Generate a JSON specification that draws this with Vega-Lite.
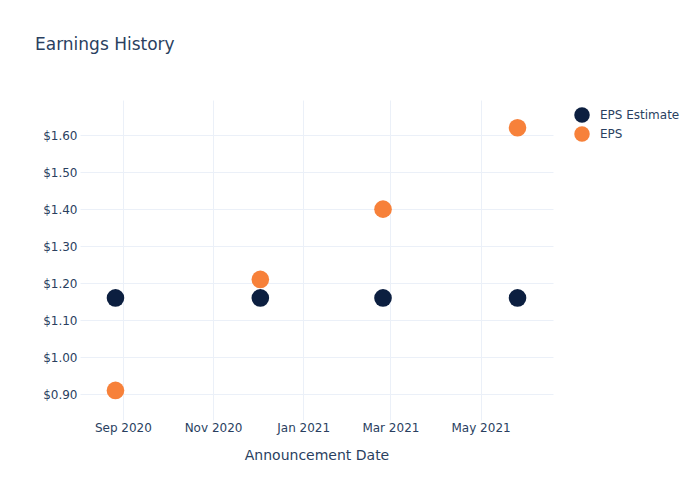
{
  "$schema": "https://vega.github.io/schema/vega-lite/v6.json",
  "width": 473,
  "height": 320,
  "autosize": {"type": "none"},
  "padding": {"left": 80, "top": 100, "right": 147, "bottom": 80},
  "background": "white",
  "title": {
    "text": "Earnings History",
    "anchor": "start",
    "frame": "group",
    "dx": -45,
    "offset": 46,
    "font": "DejaVu Sans",
    "fontSize": 17,
    "fontWeight": "normal",
    "color": "#2a3f5f"
  },
  "config": {
    "view": {"stroke": null},
    "font": "DejaVu Sans"
  },
  "data": {
    "values": [
      {"date": "2020-08-27", "series": "EPS Estimate", "value": 1.16},
      {"date": "2020-12-03", "series": "EPS Estimate", "value": 1.16},
      {"date": "2021-02-24", "series": "EPS Estimate", "value": 1.16},
      {"date": "2021-05-26", "series": "EPS Estimate", "value": 1.16},
      {"date": "2020-08-27", "series": "EPS", "value": 0.91},
      {"date": "2020-12-03", "series": "EPS", "value": 1.21},
      {"date": "2021-02-24", "series": "EPS", "value": 1.40},
      {"date": "2021-05-26", "series": "EPS", "value": 1.62}
    ]
  },
  "mark": {"type": "point", "filled": true, "opacity": 1, "size": 310, "shape": "circle"},
  "encoding": {
    "x": {
      "field": "date",
      "type": "temporal",
      "scale": {"type": "utc", "domain": ["2020-08-03", "2021-06-19"]},
      "axis": {
        "title": "Announcement Date",
        "titleFont": "DejaVu Sans",
        "titleFontSize": 14,
        "titleFontWeight": "normal",
        "titleColor": "#2a3f5f",
        "titlePadding": 15,
        "values": ["2020-09-01", "2020-11-01", "2021-01-01", "2021-03-01", "2021-05-01"],
        "labelExpr": "utcFormat(datum.value, '%b %Y')",
        "labelFont": "DejaVu Sans",
        "labelFontSize": 12,
        "labelColor": "#2a3f5f",
        "labelPadding": 2,
        "domain": false,
        "ticks": false,
        "grid": true,
        "gridColor": "#ebf0f8",
        "gridWidth": 1
      }
    },
    "y": {
      "field": "value",
      "type": "quantitative",
      "scale": {"domain": [0.83, 1.695], "nice": false, "zero": false},
      "axis": {
        "title": null,
        "values": [0.9, 1.0, 1.1, 1.2, 1.3, 1.4, 1.5, 1.6],
        "format": "$.2f",
        "labelFont": "DejaVu Sans",
        "labelFontSize": 12,
        "labelColor": "#2a3f5f",
        "labelPadding": 3,
        "domain": false,
        "ticks": false,
        "grid": true,
        "gridColor": "#ebf0f8",
        "gridWidth": 1
      }
    },
    "color": {
      "field": "series",
      "type": "nominal",
      "scale": {"domain": ["EPS Estimate", "EPS"], "range": ["#0c1f40", "#f7813a"]},
      "legend": {
        "title": null,
        "orient": "none",
        "legendX": 494,
        "legendY": 7,
        "symbolType": "circle",
        "symbolSize": 240,
        "symbolOpacity": 1,
        "symbolStrokeWidth": 0,
        "labelFont": "DejaVu Sans",
        "labelFontSize": 12,
        "labelColor": "#2a3f5f",
        "labelOffset": 10,
        "rowPadding": 3,
        "padding": 0
      }
    }
  }
}
